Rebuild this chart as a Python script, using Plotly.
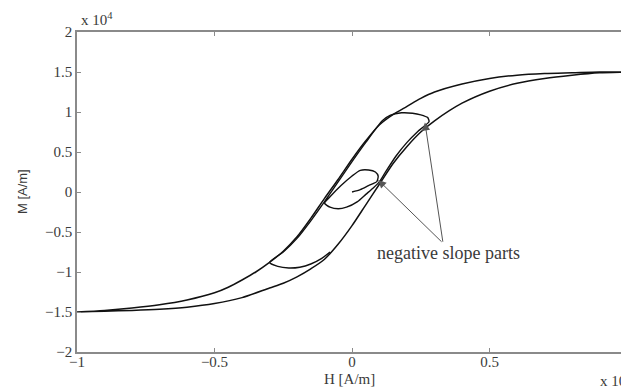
import plotly.graph_objects as go

# Major hysteresis loop (values in units of 1e4)
desc_H = [1.0, 0.9, 0.8, 0.7, 0.6, 0.5, 0.4, 0.3, 0.25, 0.2, 0.15, 0.1, 0.05, 0.0, -0.05, -0.1, -0.15,
          -0.2, -0.25, -0.3, -0.35, -0.4, -0.45, -0.5, -0.6, -0.7, -0.8, -0.9, -1.0]
desc_M = [1.5, 1.5, 1.49, 1.48, 1.46, 1.42, 1.35, 1.25, 1.17, 1.07, 0.97, 0.84, 0.64, 0.41, 0.16, -0.08, -0.33,
          -0.56, -0.74, -0.88, -1.0, -1.1, -1.19, -1.26, -1.35, -1.41, -1.45, -1.48, -1.5]
asc_H = [-1.0, -0.9, -0.8, -0.7, -0.6, -0.5, -0.4, -0.3, -0.25, -0.2, -0.15, -0.1, -0.05, 0.0, 0.05, 0.1,
         0.15, 0.2, 0.25, 0.3, 0.4, 0.5, 0.6, 0.7, 0.8, 0.9, 1.0]
asc_M = [-1.5, -1.49, -1.48, -1.465, -1.44, -1.395, -1.32, -1.2, -1.14, -1.06, -0.96, -0.84, -0.65, -0.42,
         -0.16, 0.1, 0.36, 0.57, 0.75, 0.89, 1.11, 1.26, 1.36, 1.42, 1.46, 1.49, 1.5]

# History path: initial curve, small inner loop, rise, upper hook, descent, lower minor curve
hist_H = [0.0, 0.03, 0.06, 0.09, 0.095, 0.085, 0.06, 0.03, 0.0, -0.04, -0.08, -0.1,
          -0.08, -0.05, -0.02, 0.02, 0.05, 0.08, 0.1, 0.12, 0.16, 0.2, 0.24, 0.28,
          0.275, 0.25, 0.22, 0.18, 0.14, 0.11, 0.05, 0.0, -0.05, -0.1, -0.15, -0.2, -0.25, -0.3,
          -0.27, -0.23, -0.19, -0.15, -0.11, -0.08]
hist_M = [0.0, 0.03, 0.08, 0.13, 0.2, 0.25, 0.275, 0.27, 0.2, 0.08, -0.06, -0.14,
          -0.19, -0.21, -0.19, -0.12, -0.03, 0.06, 0.13, 0.24, 0.45, 0.62, 0.76, 0.88,
          0.93, 0.965, 0.985, 0.99, 0.96, 0.89, 0.62, 0.38, 0.13, -0.12, -0.36, -0.58, -0.75, -0.88,
          -0.93, -0.95, -0.94, -0.9, -0.83, -0.75]

# Annotation pointers
label_text = "negative slope parts"
label_H, label_M = 0.351, -0.76
apex_H, apex_M = 0.331, -0.64
tips_H = [0.095, 0.265]
tips_M = [0.15, 0.87]

x_ticks = [-1, -0.5, 0, 0.5, 1]
y_ticks = [-2, -1.5, -1, -0.5, 0, 0.5, 1, 1.5, 2]

serif = "Liberation Serif"
txt = "#3a3a3a"
axc = "#8a8a8a"

fig = go.Figure()
fig.add_trace(go.Scatter(x=desc_H + asc_H, y=desc_M + asc_M, mode="lines",
                         line=dict(color="#111", width=1.5, shape="spline", smoothing=0.8),
                         showlegend=False, hoverinfo="skip"))
fig.add_trace(go.Scatter(x=hist_H, y=hist_M, mode="lines",
                         line=dict(color="#111", width=1.4, shape="spline", smoothing=0.6),
                         showlegend=False, hoverinfo="skip"))

for th, tm in zip(tips_H, tips_M):
    fig.add_annotation(x=th, y=tm, ax=apex_H, ay=apex_M, xref="x", yref="y",
                       axref="x", ayref="y", text="", showarrow=True,
                       arrowhead=2, arrowsize=1.6, arrowwidth=1, arrowcolor="#555",
                       standoff=0)

fig.add_annotation(x=label_H, y=label_M, xref="x", yref="y", text=label_text,
                   showarrow=False, font=dict(family=serif, size=18, color=txt))

fig.add_annotation(x=0.003, y=1.04, xref="paper", yref="paper", xanchor="left", yanchor="middle",
                   text="x 10<sup>4</sup>", showarrow=False,
                   font=dict(family=serif, size=15, color=txt))
fig.add_annotation(x=0.958, y=-0.088, xref="paper", yref="paper", xanchor="left", yanchor="middle",
                   text="x 10<sup>4</sup>", showarrow=False,
                   font=dict(family=serif, size=15, color=txt))
fig.add_annotation(x=0.5, y=-0.084, xref="paper", yref="paper", xanchor="center", yanchor="middle",
                   text="H [A/m]", showarrow=False,
                   font=dict(family=serif, size=15, color=txt))
fig.add_annotation(x=-0.101, y=0.5, xref="paper", yref="paper", xanchor="center", yanchor="middle",
                   text="M [A/m]", textangle=-90, showarrow=False,
                   font=dict(family="Liberation Sans", size=13, color=txt))

fig.update_layout(
    width=621, height=390,
    margin=dict(l=77, r=0, t=32, b=38, autoexpand=False),
    paper_bgcolor="white", plot_bgcolor="white",
    font=dict(family=serif, size=15, color=txt),
)
fig.update_xaxes(range=[-1, 0.978], tickvals=x_ticks, showgrid=False, zeroline=False,
                 showline=True, linecolor=axc, linewidth=1.5, mirror="ticks", automargin=False,
                 ticks="inside", ticklen=4, tickcolor=axc, ticklabelstandoff=-5,
                 tickfont=dict(family=serif, size=15, color=txt))
fig.update_yaxes(range=[-2, 2], tickvals=y_ticks, showgrid=False, zeroline=False,
                 showline=True, linecolor=axc, linewidth=1.5, mirror=False, automargin=False,
                 ticks="inside", ticklen=4, tickcolor=axc,
                 tickfont=dict(family=serif, size=15, color=txt))

fig.write_html("out.html", config={"displayModeBar": False},
               post_script="document.body.style.margin='0';document.body.style.overflow='hidden';")
